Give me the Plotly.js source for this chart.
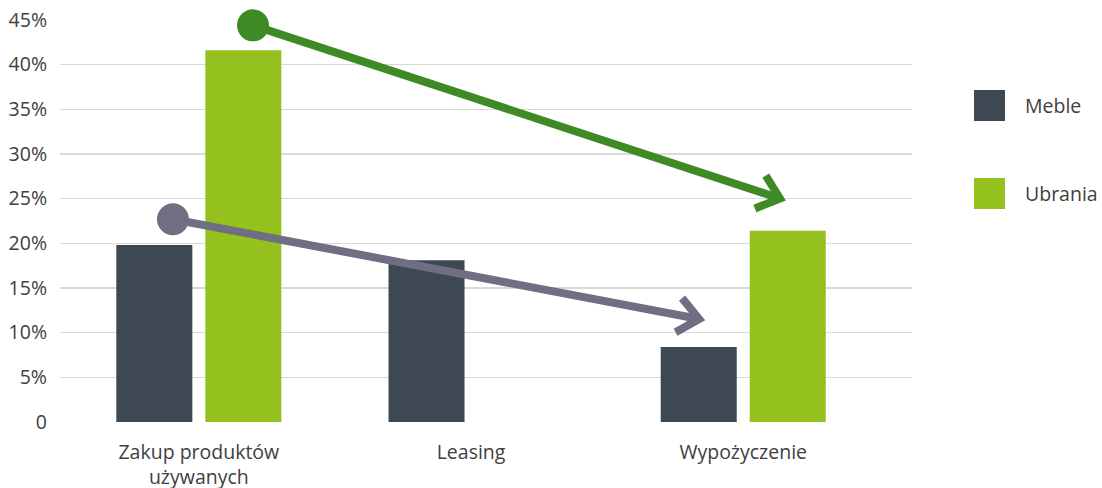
<!DOCTYPE html>
<html>
<head>
<meta charset="utf-8">
<script src="https://cdn.plot.ly/plotly-3.0.1.min.js"></script>
<style>
  html, body { margin: 0; padding: 0; background: #fff; }
  #chart { width: 1102px; height: 488px; }
</style>
</head>
<body>
<div id="chart"></div>
<script>
// Categories and series
const categories = ['Zakup produktów<br>używanych', 'Leasing', 'Wypożyczenie'];
const seriesNames = ['Meble', 'Ubrania'];
const meble = [0.198, 0.181, 0.084];
const ubrania = [0.416, null, 0.214];

// Y axis ticks
const yTickVals = [0, 0.05, 0.10, 0.15, 0.20, 0.25, 0.30, 0.35, 0.40, 0.45];
const yTickText = ['0', '5%', '10%', '15%', '20%', '25%', '30%', '35%', '40%', '45%'];

// Trend arrows: [x (category index), y (share)] start and end
const trendUbraniaStart = [0.199, 0.444];
const trendUbraniaEnd = [2.135, 0.2502];
const trendMebleStart = [-0.095, 0.227];
const trendMebleEnd = [1.838, 0.1153];

const colors = { meble: '#3d4852', ubrania: '#95c11f', arrowGreen: '#3e8a25', arrowGray: '#6f6e82' };
const textColor = '#404040';
const font = 'Open Sans, Noto Sans, sans-serif';
const fontSize = 19.5;

// Plot geometry
const W = 1102, H = 488;
const margin = { l: 60, r: 190, t: 20, b: 66 };
const plotW = W - margin.l - margin.r;
const plotH = H - margin.t - margin.b;
const xRange = [-0.51, 2.62];
const yRange = [0, 0.45];
const pxPerX = plotW / (xRange[1] - xRange[0]);
const pxPerY = plotH / (yRange[1] - yRange[0]);

// Map data coordinates to paper fractions so the markers are not clipped by the plot area
function toPaper(p) {
  return [(p[0] - xRange[0]) / (xRange[1] - xRange[0]), (p[1] - yRange[0]) / (yRange[1] - yRange[0])];
}

// Open chevron at the end of a trend line, built in pixel units then mapped to paper units
function chevron(start, end, len, spreadDeg) {
  const s = toPaper(start), e = toPaper(end);
  const dxp = (e[0] - s[0]) * plotW;
  const dyp = -(e[1] - s[1]) * plotH;
  const ang = Math.atan2(dyp, dxp) + Math.PI;
  const pts = [-1, 1].map(k => {
    const a = ang + k * spreadDeg * Math.PI / 180;
    return [e[0] + Math.cos(a) * len / plotW, e[1] - Math.sin(a) * len / plotH];
  });
  return `M${pts[0][0]},${pts[0][1]} L${e[0]},${e[1]} L${pts[1][0]},${pts[1][1]}`;
}

function arrowShapes(start, end, color) {
  const s = toPaper(start), e = toPaper(end);
  return [
    { type: 'line', xref: 'paper', yref: 'paper', x0: s[0], y0: s[1], x1: e[0], y1: e[1],
      line: { color: color, width: 8 }, layer: 'above' },
    { type: 'path', xref: 'paper', yref: 'paper', path: chevron(start, end, 27, 40),
      line: { color: color, width: 8 }, layer: 'above' },
    { type: 'circle', xref: 'paper', yref: 'paper', xsizemode: 'pixel', ysizemode: 'pixel',
      xanchor: s[0], yanchor: s[1], x0: -16, x1: 16, y0: -16, y1: 16,
      fillcolor: color, line: { width: 0 }, layer: 'above' }
  ];
}

// Legend drawn as squares with labels to the right of the plot
function px2paperX(px) { return (px - margin.l) / plotW; }
function px2paperY(py) { return (H - margin.b - py) / plotH; }
const legendItems = [
  { name: seriesNames[0], color: colors.meble, top: 90 },
  { name: seriesNames[1], color: colors.ubrania, top: 178 }
];
const legendShapes = legendItems.map(it => ({
  type: 'rect', xref: 'paper', yref: 'paper',
  x0: px2paperX(974), x1: px2paperX(1005), y0: px2paperY(it.top + 31), y1: px2paperY(it.top),
  fillcolor: it.color, line: { width: 0 }
}));
const legendLabels = legendItems.map(it => ({
  xref: 'paper', yref: 'paper', x: px2paperX(1023), y: px2paperY(it.top + 15.5),
  xanchor: 'left', yanchor: 'middle', text: it.name, showarrow: false,
  font: { family: font, size: fontSize, color: textColor }
}));

const traces = [
  { type: 'bar', name: seriesNames[0], x: categories, y: meble, marker: { color: colors.meble }, hoverinfo: 'skip' },
  { type: 'bar', name: seriesNames[1], x: categories, y: ubrania, marker: { color: colors.ubrania }, hoverinfo: 'skip' }
];

const layout = {
  width: W, height: H,
  margin: margin,
  paper_bgcolor: '#fff', plot_bgcolor: '#fff',
  barmode: 'group', bargap: 0.346, bargroupgap: 0.146,
  showlegend: false,
  font: { family: font, size: fontSize, color: textColor },
  xaxis: {
    type: 'category', range: xRange, showgrid: false, zeroline: false, showline: false,
    ticks: '', ticklabelstandoff: 16, tickfont: { family: font, size: fontSize, color: textColor }
  },
  yaxis: {
    range: yRange, tickvals: yTickVals, ticktext: yTickText, showgrid: true,
    gridcolor: '#d9d9d9', gridwidth: 1.5, zeroline: false, showline: false, ticks: '',
    ticklabelstandoff: 12, tickfont: { family: font, size: fontSize, color: textColor }
  },
  shapes: [
    ...arrowShapes(trendMebleStart, trendMebleEnd, colors.arrowGray),
    ...arrowShapes(trendUbraniaStart, trendUbraniaEnd, colors.arrowGreen),
    ...legendShapes
  ],
  annotations: legendLabels
};

Plotly.newPlot('chart', traces, layout, { staticPlot: true, displayModeBar: false });
</script>
</body>
</html>
